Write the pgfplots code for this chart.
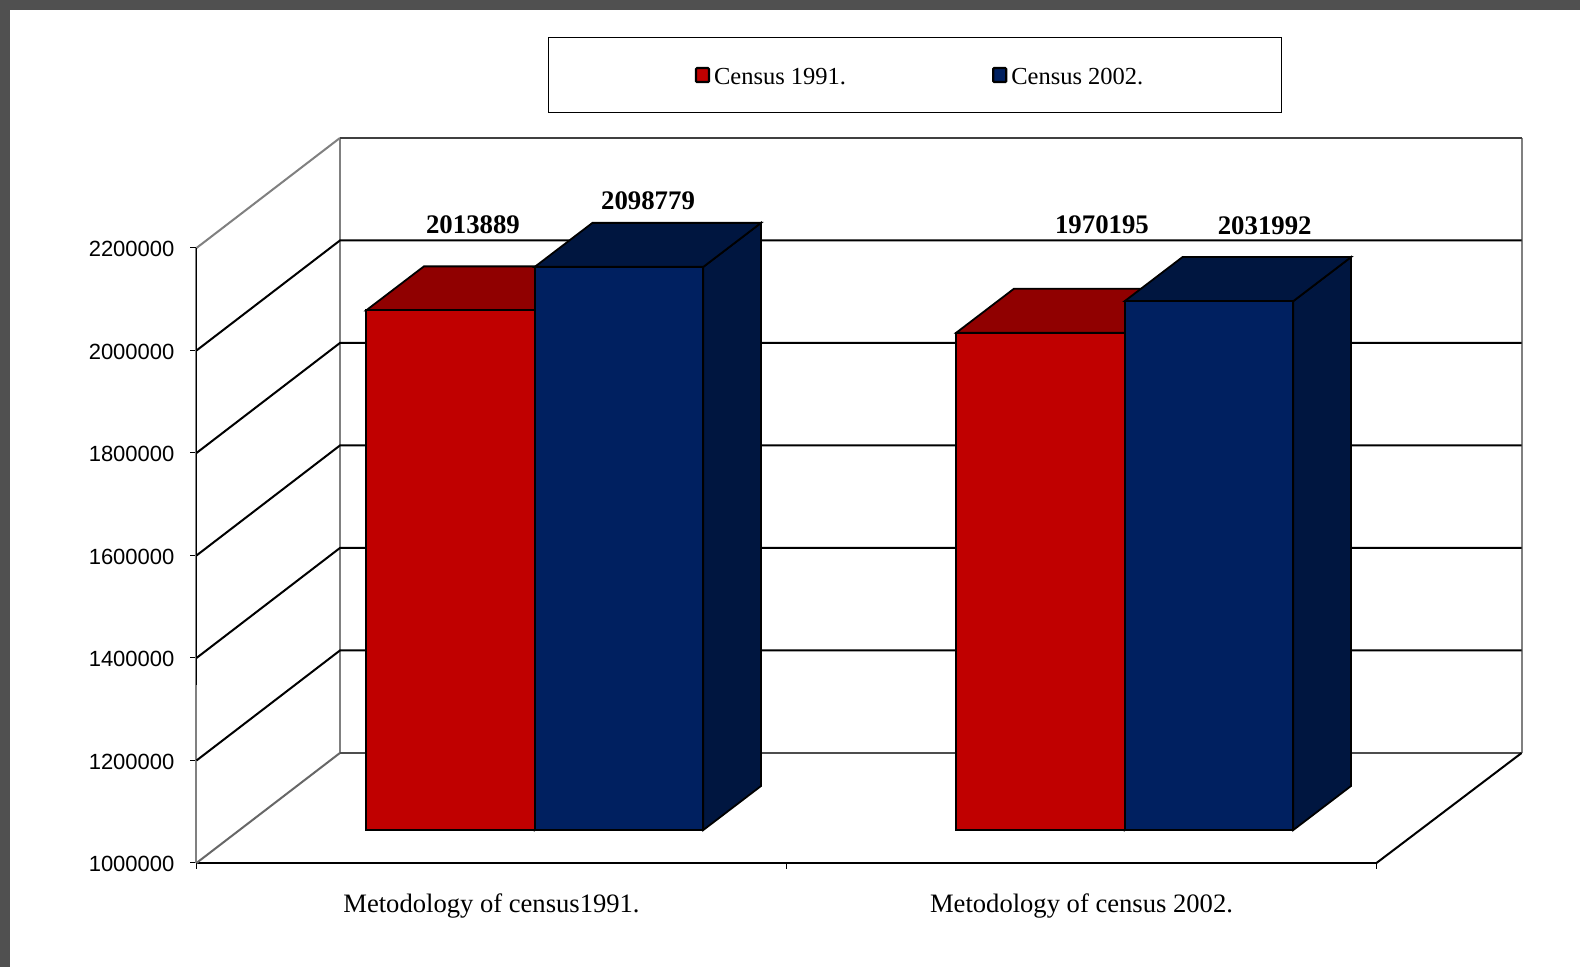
\documentclass[border=0pt]{standalone}
\usepackage{fontspec}
\setmainfont{Liberation Serif}
\setsansfont{Liberation Sans}
\usepackage{pgfplots}
\pgfplotsset{compat=1.18}

\definecolor{censusred}{HTML}{C00000}
\definecolor{censusreddark}{HTML}{900000}
\definecolor{censusblue}{HTML}{002060}
\definecolor{censusbluedark}{HTML}{001640}
\definecolor{wallgray}{HTML}{808080}
\definecolor{framegray}{HTML}{505050}

% every table has x (category position), d (depth, 0 front to 1 back wall), v (value)
\pgfplotsset{
  table/row sep=\\,
  table/x expr=\thisrow{x}+0.2445*\thisrow{d},
  table/y expr=\thisrow{v}+214634*\thisrow{d},
}

% left, right, value, face colour, shaded colour
\newcommand{\censusbar}[5]{
  \addplot[fill=#5,draw=black,line width=0.9pt,forget plot] table {x d v\\ #2 0.3 1000000\\ #2 0.7 1000000\\ #2 0.7 #3\\ #2 0.3 #3\\} --cycle;
  \addplot[fill=#5,draw=black,line width=0.9pt,forget plot] table {x d v\\ #1 0.3 #3\\ #2 0.3 #3\\ #2 0.7 #3\\ #1 0.7 #3\\} --cycle;
  \addplot[fill=#4,draw=black,line width=0.9pt,forget plot] table {x d v\\ #1 0.3 1000000\\ #2 0.3 1000000\\ #2 0.3 #3\\ #1 0.3 #3\\} --cycle;
}

\begin{document}
\begin{tikzpicture}
  % page frame: 1580x967 px at 0.5pt per px, axis box corner at the origin
  \fill[framegray] (-98.25pt,-52pt) rectangle (691.75pt,431.5pt);
  \fill[white] (-93.25pt,-52pt) rectangle (691.75pt,426.5pt);
  \begin{axis}[
    scale only axis,
    width=590pt, height=307.5pt,
    xmin=0, xmax=2, ymin=1000000, ymax=2200000,
    clip=false,
    axis lines=left,
    axis line style={-},
    x axis line style={black,line width=1.1pt},
    y axis line style={wallgray,line width=1pt},
    tick align=outside,
    tick style={black,line width=0.5pt},
    major tick length=3pt,
    ytick distance=200000,
    scaled y ticks=false,
    /pgf/number format/fixed,
    /pgf/number format/1000 sep={},
    /pgf/number format/assume math mode=true,
    yticklabel style={font=\fontsize{11}{13}\selectfont\sffamily,xshift=-4.5pt,yshift=-0.6pt},
    xtick={0,1,2},
    xticklabels={,,},
    extra x ticks={0.5,1.5},
    extra x tick labels={Metodology of census1991.,Metodology of census 2002.},
    extra x tick style={major tick length=0pt,
      xticklabel style={font=\fontsize{13.3}{16}\selectfont,yshift=-12pt}},
    legend columns=2,
    legend cell align=left,
    legend image code/.code={\draw[#1,line width=1.1pt,rounded corners=0.5pt] (0pt,-3.5pt) rectangle (6.5pt,3.5pt);},
    legend style={at={(0.2982,1.3426)},anchor=north west,draw=black,line width=0.5pt,
      font=\fontsize{12.25}{14}\selectfont,inner xsep=73pt,inner ysep=10.25pt,
      /tikz/every even column/.append style={column sep=71pt}},
  ]
    \addlegendimage{draw=black,fill=censusred}
    \addlegendentry{\rule{0pt}{11.3pt}Census 1991.}
    \addlegendimage{draw=black,fill=censusblue}
    \addlegendentry{\rule{0pt}{11.3pt}Census 2002.\hspace*{-6.1pt}}

    % walls and floor
    \addplot[wallgray,line width=1pt,forget plot] table {x d v\\ -0.0014 1 1000000\\ -0.0014 1 2200000\\};
    \addplot[wallgray,line width=1pt,forget plot] table {x d v\\ 2.0014 1 1000000\\ 2.0014 1 2200000\\};
    \addplot[wallgray!80!black,line width=1pt,forget plot] table {x d v\\ 0 0 1000000\\ -0.0014 1 1000000\\};
    \addplot[wallgray!60!black,line width=1pt,forget plot] table {x d v\\ -0.0014 1 1000000\\ 2.0014 1 1000000\\};
    \addplot[black,line width=1pt,forget plot] table {x d v\\ 2 0 1000000\\ 2.0014 1 1000000\\};
    \addplot[wallgray,line width=1pt,forget plot] table {x d v\\ 0 0 2200000\\ -0.0014 1 2200000\\};
    \addplot[wallgray!50!black,line width=1pt,forget plot] table {x d v\\ -0.0014 1 2200000\\ 2.0014 1 2200000\\};
    \addplot[black,line width=0.9pt,forget plot] table {x d v\\ 0 0 1347000\\ 0 0 2200000\\};
    % gridlines
    \pgfplotsinvokeforeach{1200000,1400000,1600000,1800000,2000000}{
      \addplot[black,line width=1pt,forget plot] table {x d v\\ 0 0 #1\\ -0.0014 1 #1\\ 2.0014 1 #1\\};
    }

    % bars
    \censusbar{0.2143}{0.5}{2013889}{censusred}{censusreddark}
    \censusbar{0.5}{0.7857}{2098779}{censusblue}{censusbluedark}
    \censusbar{1.2143}{1.5}{1970195}{censusred}{censusreddark}
    \censusbar{1.5}{1.7857}{2031992}{censusblue}{censusbluedark}

    % value labels
    \begin{scope}[every node/.style={font=\fontsize{13.4}{16}\selectfont\bfseries}]
      \node at (axis cs:0.4686,2244878) {2013889};
      \node at (axis cs:0.7653,2292683) {2098779};
      \node at (axis cs:1.5347,2244878) {1970195};
      \node at (axis cs:1.8105,2242927) {2031992};
    \end{scope}
  \end{axis}
\end{tikzpicture}
\end{document}
